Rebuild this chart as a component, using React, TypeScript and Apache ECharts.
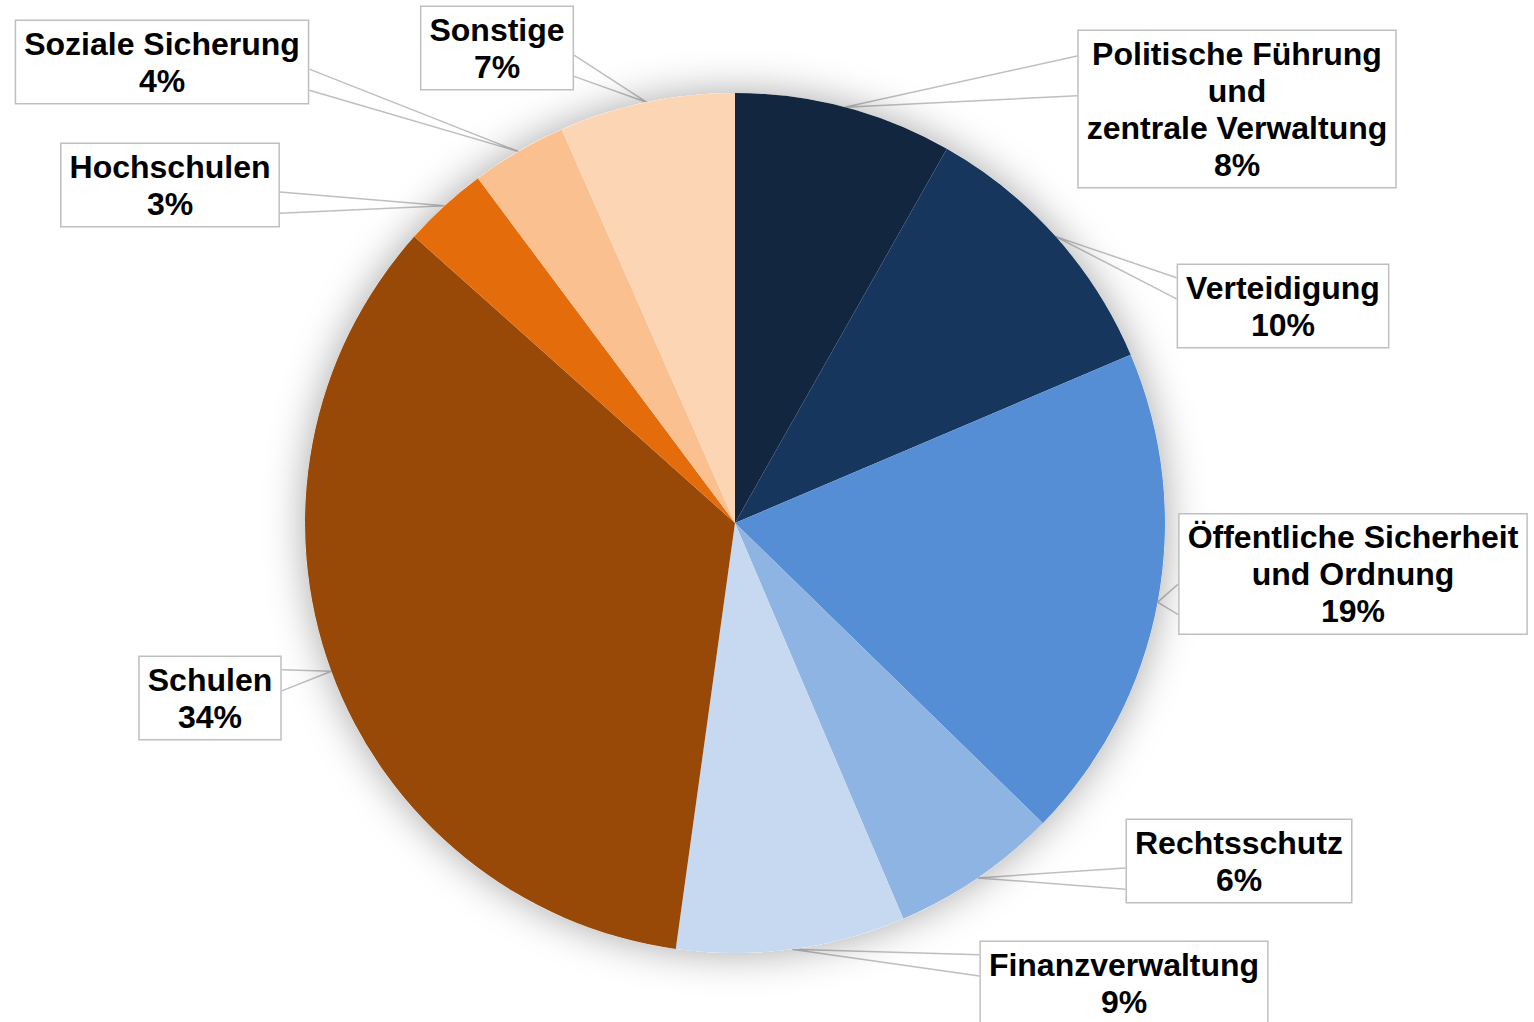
import React, { useEffect, useRef } from "react";
import * as echarts from "echarts";

// ---- data ----
const categories = [
  "Politische Führung\nund\nzentrale Verwaltung",
  "Verteidigung",
  "Öffentliche Sicherheit\nund Ordnung",
  "Rechtsschutz",
  "Finanzverwaltung",
  "Schulen",
  "Hochschulen",
  "Soziale Sicherung",
  "Sonstige",
];
const shares = [8.2, 10.4, 18.7, 6.3, 8.6, 34.4, 3.2, 3.6, 6.6];

// ---- styles / layout ----
const colors = [
  "#132640",
  "#17365d",
  "#558ed5",
  "#8eb4e3",
  "#c6d9f1",
  "#984807",
  "#e46c0a",
  "#fac090",
  "#fcd5b5",
];
const labelCenters: [number, number][] = [
  [1237, 109],
  [1283, 306],
  [1353, 574],
  [1239, 861],
  [1124, 983],
  [210, 698],
  [170, 185],
  [162, 62],
  [497, 48],
];
const CENTER: [number, number] = [735, 523];
const RADIUS = 430;
const FONT = "'Liberation Sans', Arial, Helvetica, sans-serif";
const GUIDE = "#bfbfbf";

function tipFor(index: number): [number, number] {
  const total = shares.reduce((a, b) => a + b, 0);
  let cum = 0;
  for (let i = 0; i < index; i++) cum += shares[i];
  const a = ((cum + shares[index] / 2) / total) * Math.PI * 2;
  return [CENTER[0] + RADIUS * Math.sin(a), CENTER[1] - RADIUS * Math.cos(a)];
}

export default function App() {
  const ref = useRef<HTMLDivElement>(null);
  useEffect(() => {
    if (!ref.current) return;
    const chart = echarts.init(ref.current, undefined, { renderer: "svg" });
    chart.setOption({
      animation: false,
      backgroundColor: "#ffffff",
      series: [
        {
          type: "pie",
          silent: true,
          center: CENTER,
          radius: RADIUS,
          label: { show: false },
          labelLine: { show: false },
          emphasis: { disabled: true },
          data: [
            {
              value: 1,
              itemStyle: {
                color: "#ffffff",
                shadowBlur: 40,
                shadowColor: "rgba(0,0,0,0.35)",
              },
            },
          ],
        },
        {
          type: "pie",
          center: CENTER,
          radius: RADIUS,
          startAngle: 90,
          clockwise: true,
          avoidLabelOverlap: false,
          emphasis: { scale: false },
          data: categories.map((name, i) => ({
            name,
            value: shares[i],
            itemStyle: { color: colors[i] },
          })),
          label: {
            show: true,
            position: "outside",
            formatter: (p: any) => `${p.name}\n${Math.round(p.percent)}%`,
            color: "#000000",
            fontFamily: FONT,
            fontWeight: "bold",
            fontSize: 32,
            lineHeight: 37,
            align: "center",
            backgroundColor: "#ffffff",
            borderColor: GUIDE,
            borderWidth: 1.5,
            padding: [4, 8, 4, 8],
          },
          labelLine: {
            show: true,
            length: 20,
            length2: 20,
            smooth: false,
            lineStyle: { color: GUIDE, width: 1.5 },
          },
          labelLayout: (params: any) => {
            const i = params.dataIndex;
            const [bx, by] = labelCenters[i];
            const w = params.labelRect.width;
            const h = params.labelRect.height;
            const left = bx - w / 2;
            const top = by - h / 2;
            const tip: [number, number] =
              params.labelLinePoints && params.labelLinePoints[0]
                ? [params.labelLinePoints[0][0], params.labelLinePoints[0][1]]
                : tipFor(i);
            const dx = tip[0] - bx;
            const dy = tip[1] - by;
            const dq = (dx * h) / w;
            let A: [number, number];
            let B: [number, number];
            if (Math.abs(dy) <= Math.abs(dq)) {
              const sx = dx < 0 ? left : left + w;
              const g1 = dy > 0 ? 7 : 2;
              const g2 = dy > 0 ? 10 : 5;
              A = [sx, top + (h * g1) / 12];
              B = [sx, top + (h * g2) / 12];
            } else {
              const sy = dy < 0 ? top : top + h;
              const g1 = dx > 0 ? 7 : 2;
              const g2 = dx > 0 ? 10 : 5;
              A = [left + (w * g1) / 12, sy];
              B = [left + (w * g2) / 12, sy];
            }
            return {
              x: bx,
              y: by,
              align: "center",
              verticalAlign: "middle",
              labelLinePoints: [A, tip, B],
            };
          },
        },
      ],
    });
    return () => chart.dispose();
  }, []);
  return (
    <div
      ref={ref}
      style={{
        position: "absolute",
        left: 0,
        top: 0,
        width: 1534,
        height: 1022,
      }}
    />
  );
}
